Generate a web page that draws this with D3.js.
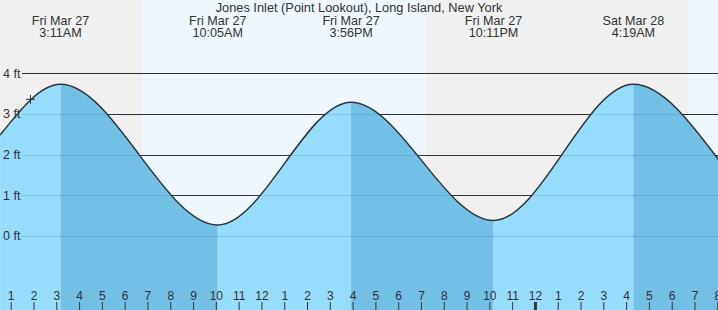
<!DOCTYPE html>
<html>
<head>
<meta charset="utf-8">
<script src="https://cdn.jsdelivr.net/npm/d3@7"></script>
<style>
  body { margin: 0; }
  svg { display: block; font-family: "Liberation Sans", Arial, sans-serif; }
</style>
</head>
<body>
<div id="container"></div>
<script>
/* CONSTANTS AND GLOBALS */
const width = 718,
  height = 310

const title = "Jones Inlet (Point Lookout), Long Island, New York"

// tide curve: chart edges plus highs and lows
const tideTimes = ["2020-03-27T00:32", "2020-03-27T03:11", "2020-03-27T10:05", "2020-03-27T15:56",
  "2020-03-27T22:11", "2020-03-28T04:19", "2020-03-28T08:04"]
const tideHeights = [2.48, 3.73, 0.27, 3.29, 0.38, 3.73, 1.87]

// labelled extremes at the top
const extremeTimes = ["2020-03-27T03:11", "2020-03-27T10:05", "2020-03-27T15:56", "2020-03-27T22:11", "2020-03-28T04:19"]
const extremeDays = ["Fri Mar 27", "Fri Mar 27", "Fri Mar 27", "Fri Mar 27", "Sat Mar 28"]
const extremeLabels = ["3:11AM", "10:05AM", "3:56PM", "10:11PM", "4:19AM"]

// sunrise / sunset
const sunTimes = ["2020-03-27T06:46", "2020-03-27T19:13", "2020-03-28T06:43"]

const heightTicks = [0, 1, 2, 3, 4]

// current time marker
const nowTime = "2020-03-27T01:52"
const nowHeight = 3.36

const parse = d3.utcParse("%Y-%m-%dT%H:%M")
const data = tideTimes.map((t, i) => ({ date: parse(t), ft: tideHeights[i] }))

/* SCALES */
const xScale = d3.scaleUtc()
  .domain([parse("2020-03-27T01:00"), parse("2020-03-28T08:00")])
  .range([10.7, 717.3])

const yScale = d3.scaleLinear()
  .domain([0, 4])
  .range([236, 73.3])

const svg = d3.select("#container")
  .append("svg")
  .attr("width", width)
  .attr("height", height)

// day / night bands
const edges = [xScale.invert(0), ...sunTimes.map(parse), xScale.invert(width)]
svg.selectAll("rect.band")
  .data(d3.pairs(edges))
  .join("rect")
  .attr("class", "band")
  .attr("x", d => xScale(d[0]))
  .attr("width", d => xScale(d[1]) - xScale(d[0]))
  .attr("y", 0)
  .attr("height", height)
  .attr("fill", (d, i) => i % 2 === 0 ? "#f0f0f0" : "#eef7fe")

// grid lines above the water
svg.selectAll("line.grid")
  .data(heightTicks)
  .join("line")
  .attr("class", "grid")
  .attr("x1", 22)
  .attr("x2", width)
  .attr("y1", d => Math.round(yScale(d)) + 0.5)
  .attr("y2", d => Math.round(yScale(d)) + 0.5)
  .attr("stroke", "#333")

// water
const area = d3.area()
  .x(d => xScale(d.date))
  .y0(height)
  .y1(d => yScale(d.ft))
  .curve(d3.curveMonotoneX)

const defs = svg.append("defs")
const segs = d3.pairs(data)
segs.forEach((s, i) => {
  const x0 = i === 0 ? 0 : xScale(s[0].date)
  const x1 = i === segs.length - 1 ? width : xScale(s[1].date)
  defs.append("clipPath").attr("id", "seg" + i)
    .append("rect")
    .attr("x", x0)
    .attr("width", x1 - x0)
    .attr("y", 0)
    .attr("height", height)
})

svg.selectAll("path.water")
  .data(segs)
  .join("path")
  .attr("class", "water")
  .attr("clip-path", (d, i) => `url(#seg${i})`)
  .attr("d", area(data))
  .attr("fill", d => d[1].ft > d[0].ft ? "#96dcfc" : "#72c0e6")

// faint grid lines inside the water
svg.selectAll("line.faint")
  .data(heightTicks)
  .join("line")
  .attr("class", "faint")
  .attr("x1", 22)
  .attr("x2", width)
  .attr("y1", d => Math.round(yScale(d)) + 0.5)
  .attr("y2", d => Math.round(yScale(d)) + 0.5)
  .attr("stroke", "rgba(0,60,100,0.13)")

// tide line
svg.append("path")
  .attr("d", d3.line().x(d => xScale(d.date)).y(d => yScale(d.ft)).curve(d3.curveMonotoneX)(data))
  .attr("fill", "none")
  .attr("stroke", "#333")
  .attr("stroke-width", 1.5)

// y labels
svg.selectAll("text.ylab")
  .data(heightTicks)
  .join("text")
  .attr("class", "ylab")
  .attr("x", 3)
  .attr("y", d => yScale(d))
  .attr("dy", "0.35em")
  .attr("font-size", 12.5)
  .attr("fill", "#333")
  .text(d => d + " ft")

// hour axis
const xAxis = d3.axisTop(xScale)
  .ticks(d3.utcHour.every(1))
  .tickFormat(d3.utcFormat("%-I"))
  .tickSize(8)
  .tickPadding(2)

const ax = svg.append("g")
  .attr("transform", `translate(0,${height})`)
  .call(xAxis)
ax.select(".domain").remove()
ax.selectAll(".tick line")
  .attr("stroke", "#333")
  .attr("stroke-width", d => d.getUTCHours() === 0 ? 3 : 1)
ax.selectAll(".tick text")
  .attr("fill", "#333")
  .attr("font-size", 12)
  .attr("font-family", "Liberation Sans, Arial, sans-serif")

// current time marker
svg.append("path")
  .attr("transform", `translate(${xScale(parse(nowTime))},${yScale(nowHeight)})`)
  .attr("d", "M-4.5,0H4.5M0,-4.5V4.5")
  .attr("stroke", "#333")
  .attr("stroke-width", 1)

// title and extreme labels
svg.append("text")
  .attr("x", width / 2)
  .attr("y", 11.5)
  .attr("text-anchor", "middle")
  .attr("font-size", 12.8)
  .attr("fill", "#333")
  .text(title)

const lab = svg.selectAll("g.ext")
  .data(extremeTimes)
  .join("g")
  .attr("class", "ext")
  .attr("transform", d => `translate(${xScale(parse(d))},0)`)
lab.append("text")
  .attr("y", 24.5)
  .attr("text-anchor", "middle")
  .attr("font-size", 12.6)
  .attr("fill", "#333")
  .text((d, i) => extremeDays[i])
lab.append("text")
  .attr("y", 36.5)
  .attr("text-anchor", "middle")
  .attr("font-size", 12.6)
  .attr("fill", "#333")
  .text((d, i) => extremeLabels[i])
</script>
</body>
</html>
